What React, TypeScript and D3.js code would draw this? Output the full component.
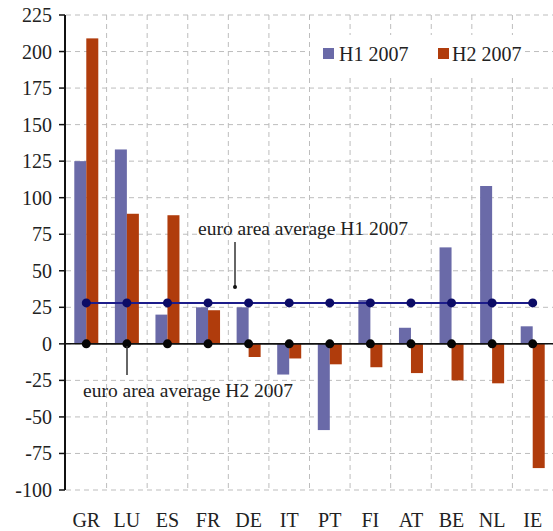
import React from "react";
import * as d3 from "d3";

const categories = ["GR", "LU", "ES", "FR", "DE", "IT", "PT", "FI", "AT", "BE", "NL", "IE"];
const h1Values = [125, 133, 20, 25, 25, -21, -59, 30, 11, 66, 108, 12];
const h2Values = [209, 89, 88, 23, -9, -10, -14, -16, -20, -25, -27, -85];
const h1Average = [28, 28, 28, 28, 28, 28, 28, 28, 28, 28, 28, 28];
const h2Average = [0, 0, 0, 0, 0, 0, 0, 0, 0, 0, 0, 0];
const yTicks = [225, 200, 175, 150, 125, 100, 75, 50, 25, 0, -25, -50, -75, -100];
const seriesNames = ["H1 2007", "H2 2007"];
const annotationH1 = "euro area average H1 2007";
const annotationH2 = "euro area average H2 2007";

const W = 553;
const H = 531;
const left = 66;
const right = 553;
const top = 15;
const bottom = 490;

const C1 = "#6a6aa8";
const C2 = "#b03c0c";
const FONT = "'Liberation Serif', 'DejaVu Serif', serif";

export default function App() {
  const x = d3.scaleBand<string>().domain(categories).range([left, right]).padding(0);
  const y = d3.scaleLinear().domain([-100, 225]).range([bottom, top]);
  const bw = x.bandwidth();
  const barW = 12;
  const sub = d3.scaleBand<string>().domain(["H1", "H2"]).range([bw / 2 - barW, bw / 2 + barW]);
  const cx = (c: string) => (x(c) as number) + bw / 2;
  const line = d3
    .line<number>()
    .x((_, i) => cx(categories[i]))
    .y((d) => y(d));

  const barRect = (c: string, v: number, key: string, color: string) => {
    const y0 = y(0);
    const yv = y(v);
    return (
      <rect
        key={key + c}
        x={(x(c) as number) + (sub(key) as number)}
        y={Math.min(y0, yv)}
        width={sub.bandwidth()}
        height={Math.abs(yv - y0)}
        fill={color}
      />
    );
  };

  return (
    <svg width={W} height={H} style={{ position: "absolute", left: 0, top: 0, background: "#fff" }} fontFamily={FONT}>
      <rect x={0} y={0} width={W} height={H} fill="#fff" />
      {yTicks.map((t) => (
        <line key={"hg" + t} x1={left} x2={right} y1={y(t)} y2={y(t)} stroke="#bdbdbd" strokeDasharray="5,4" strokeWidth={1} />
      ))}
      {categories.slice(1).map((c) => (
        <line key={"vg" + c} x1={x(c) as number} x2={x(c) as number} y1={top} y2={bottom} stroke="#bdbdbd" strokeDasharray="5,4" strokeWidth={1} />
      ))}
      <rect x={310} y={35} width={212} height={40} fill="#fff" />
      <rect x={323} y={48} width={11} height={11} fill={C1} />
      <text x={339} y={61} fontSize={20} fill="#222">{seriesNames[0]}</text>
      <rect x={438} y={48} width={11} height={11} fill={C2} />
      <text x={452} y={61} fontSize={20} fill="#222">{seriesNames[1]}</text>
      {categories.map((c, i) => barRect(c, h1Values[i], "H1", C1))}
      {categories.map((c, i) => barRect(c, h2Values[i], "H2", C2))}
      <line x1={left - 1} x2={right} y1={y(0)} y2={y(0)} stroke="#111" strokeWidth={1.5} />
      <path d={line(h2Average) || ""} fill="none" stroke="#111" strokeWidth={1.5} />
      {h2Average.map((v, i) => (
        <circle key={"d2" + i} cx={cx(categories[i])} cy={y(v)} r={4.5} fill="#050505" />
      ))}
      <path d={line(h1Average) || ""} fill="none" stroke="#1c1c8a" strokeWidth={2} />
      {h1Average.map((v, i) => (
        <circle key={"d1" + i} cx={cx(categories[i])} cy={y(v)} r={4.5} fill="#0c0c66" />
      ))}
      <line x1={left - 1} x2={left - 1} y1={top} y2={bottom} stroke="#111" strokeWidth={2} />
      {yTicks.map((t) => (
        <g key={"yt" + t}>
          <line x1={left - 7} x2={left - 1} y1={y(t)} y2={y(t)} stroke="#111" strokeWidth={1.5} />
          <text x={52} y={y(t)} dy="0.35em" textAnchor="end" fontSize={20} fill="#222">{t}</text>
        </g>
      ))}
      {categories.map((c) => (
        <text key={"xl" + c} x={cx(c)} y={527} textAnchor="middle" fontSize={20} fill="#222">{c}</text>
      ))}
      <text x={198} y={235} fontSize={19.5} fill="#222">{annotationH1}</text>
      <line x1={235} x2={235} y1={242} y2={286} stroke="#333" strokeWidth={1.5} />
      <circle cx={235} cy={287} r={2} fill="#111" />
      <text x={83} y={397} fontSize={19.5} fill="#222">{annotationH2}</text>
      <line x1={127} x2={127} y1={346} y2={375} stroke="#333" strokeWidth={1.5} />
    </svg>
  );
}
